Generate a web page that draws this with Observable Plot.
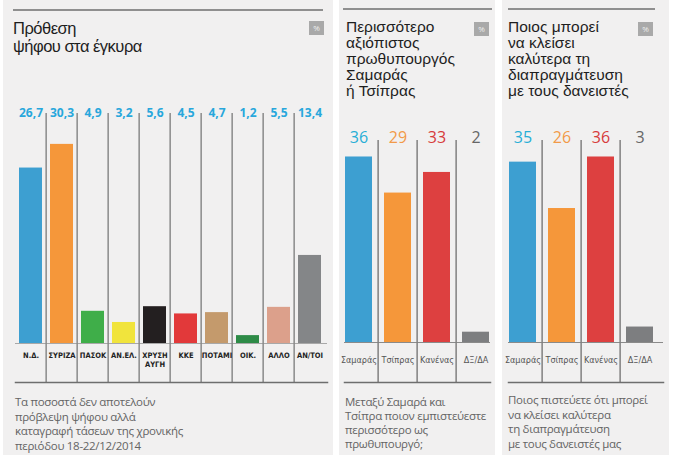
<!DOCTYPE html>
<html>
<head>
<meta charset="utf-8">
<script src="https://cdn.jsdelivr.net/npm/d3@7"></script>
<script src="https://cdn.jsdelivr.net/npm/@observablehq/plot@0.6"></script>
<style>
  body { margin: 0; background: #ffffff; }
  #root { position: relative; width: 675px; height: 463px; overflow: hidden; background: #ffffff; font-family: "Open Sans", "Noto Sans", sans-serif; }
  .panel { position: absolute; top: 0; height: 455px; background: #f1f0f0; }
  .rule { position: absolute; height: 2px; background: #8f8f8f; }
  .title { position: absolute; color: #1e1e1e; white-space: nowrap; font-family: "Liberation Sans", Arial, sans-serif; }
  .pct { position: absolute; width: 15px; height: 14px; background: #a9a9a9; color: #eeeeee; font-size: 8px; line-height: 14px; text-align: center; }
  .note { position: absolute; color: #646464; font-size: 11.5px; letter-spacing: -0.3px; white-space: nowrap; }
  .plot { position: absolute; left: 0; top: 0; }
</style>
</head>
<body>
<div id="root">
  <div class="panel" id="p1" style="left:3px;width:330px;">
    <div class="rule" style="left:10px;top:9px;width:310px;"></div>
    <div class="title" style="left:10px;top:19px;font-size:16.5px;line-height:18px;letter-spacing:-0.5px;">Πρόθεση<br>ψήφου στα έγκυρα</div>
    <div class="pct" style="left:306px;top:21px;">%</div>
    <div class="plot" id="plot1"></div>
    <div class="note" style="left:12px;top:395px;line-height:14.5px;">Τα ποσοστά δεν αποτελούν<br>πρόβλεψη ψήφου αλλά<br>καταγραφή τάσεων της χρονικής<br>περιόδου 18-22/12/2014</div>
  </div>
  <div class="panel" id="p2" style="left:339px;width:156px;">
    <div class="rule" style="left:4px;top:8px;width:149px;"></div>
    <div class="title" style="left:7px;top:19px;font-size:15.5px;line-height:16px;letter-spacing:0px;">Περισσότερο<br>αξιόπιστος<br>πρωθυπουργός<br>Σαμαράς<br>ή Τσίπρας</div>
    <div class="pct" style="left:135px;top:22px;">%</div>
    <div class="plot" id="plot2"></div>
    <div class="note" style="left:6px;top:395px;line-height:14px;">Μεταξύ Σαμαρά και<br>Τσίπρα ποιον εμπιστεύεστε<br>περισσότερο ως<br>πρωθυπουργό;</div>
  </div>
  <div class="panel" id="p3" style="left:502px;width:167px;">
    <div class="rule" style="left:6px;top:8px;width:147px;"></div>
    <div class="title" style="left:6px;top:19px;font-size:15.5px;line-height:16px;letter-spacing:0px;">Ποιος μπορεί<br>να κλείσει<br>καλύτερα τη<br>διαπραγμάτευση<br>με τους δανειστές</div>
    <div class="pct" style="left:136px;top:22px;">%</div>
    <div class="plot" id="plot3"></div>
    <div class="note" style="left:6px;top:393px;line-height:14.5px;">Ποιος πιστεύετε ότι μπορεί<br>να κλείσει καλύτερα<br>τη διαπραγμάτευση<br>με τους δανειστές μας</div>
  </div>
</div>
<script>
// ---- Data ----
const parties = ["Ν.Δ.", "ΣΥΡΙΖΑ", "ΠΑΣΟΚ", "ΑΝ.ΕΛ.", "ΧΡΥΣΗ\nΑΥΓΗ", "ΚΚΕ", "ΠΟΤΑΜΙ", "ΟΙΚ.", "ΑΛΛΟ", "ΑΝ/ΤΟΙ"];
const partyValues = [26.7, 30.3, 4.9, 3.2, 5.6, 4.5, 4.7, 1.2, 5.5, 13.4];
const partyColors = ["#3d9fd1", "#f5973a", "#3fae49", "#f1e43c", "#231f20", "#e2393a", "#c49a6c", "#2e8b47", "#dca08b", "#848688"];

const leaders = ["Σαμαράς", "Τσίπρας", "Κανένας", "ΔΞ/ΔΑ"];
const pmValues = [36, 29, 33, 2];
const negotiationValues = [35, 26, 36, 3];
const leaderColors = ["#3d9fd1", "#f5973a", "#dd4040", "#7d7e80"];
const leaderLabelColors = ["#27aed6", "#f29a48", "#d73b3b", "#666666"];

const fmt = v => String(v).replace(".", ",");
const narrow = "'Liberation Sans Narrow', 'DejaVu Sans Condensed', 'Roboto', sans-serif";

// ---- Panel 1: vote intention ----
const partyData = parties.map((p, i) => ({party: p, value: partyValues[i], color: partyColors[i]}));
const range1 = [9, 326];
const step1 = (range1[1] - range1[0]) / parties.length;

const plot1 = Plot.plot({
  width: 330, height: 455,
  marginTop: 113, marginBottom: 73, marginLeft: 12, marginRight: 6,
  style: {background: "none", overflow: "visible", fontFamily: "'Open Sans', sans-serif"},
  x: {type: "band", domain: parties, range: range1, paddingInner: 0.25, paddingOuter: 0.125, axis: null},
  y: {domain: [0, 35], range: [343, 113], axis: null},
  marks: [
    Plot.ruleY([0], {stroke: "#a8a8a8", strokeWidth: 1}),
    Plot.ruleX(parties.slice(1), {x: d => d, dx: -step1 / 2, stroke: "#8a8a8a", strokeWidth: 1.5}),
    Plot.barY(partyData, {x: "party", y: "value", fill: "color"}),
    Plot.frame({anchor: "bottom", stroke: "#6e6e6e", strokeWidth: 1.5}),
    Plot.text(partyData, {x: "party", text: d => fmt(d.value), frameAnchor: "top", dy: -5.5, fill: "#28a7dc", fontSize: 12, fontWeight: 700, letterSpacing: -0.3}),
    Plot.text(partyData, {x: "party", text: "party", frameAnchor: "bottom", dy: -30, lineAnchor: "top", lineHeight: 1.1, fill: "#222222", fontSize: 7.5, fontWeight: 700, fontFamily: narrow})
  ]
});
document.getElementById("plot1").appendChild(plot1);

// ---- Panels 2 & 3 ----
function leaderPlot(values, range) {
  const data = leaders.map((l, i) => ({leader: l, value: values[i], color: leaderColors[i], labelColor: leaderLabelColors[i]}));
  const step = (range[1] - range[0]) / leaders.length;
  return Plot.plot({
    width: range[2], height: 455,
    marginTop: 140, marginBottom: 73, marginLeft: range[3], marginRight: range[4],
    style: {background: "none", overflow: "visible", fontFamily: "'Open Sans', sans-serif"},
    x: {type: "band", domain: leaders, range: [range[0], range[1]], paddingInner: 0.32, paddingOuter: 0.16, axis: null},
    y: {domain: [0, 39.2], range: [342, 140], axis: null},
    marks: [
      Plot.ruleY([0], {stroke: "#8a8a8a", strokeWidth: 1.2}),
      Plot.ruleX(leaders.slice(1), {x: d => d, dx: -step / 2, stroke: "#808080", strokeWidth: 1.5}),
      Plot.barY(data, {x: "leader", y: "value", fill: "color"}),
      Plot.frame({anchor: "bottom", stroke: "#6e6e6e", strokeWidth: 1.5}),
      Plot.text(data, {x: "leader", text: d => String(d.value), frameAnchor: "top", dy: -9, fill: "labelColor", fontSize: 16, fontWeight: 500}),
      Plot.text(data, {x: "leader", text: "leader", frameAnchor: "bottom", dy: -20, fill: "#555555", fontSize: 9, fontFamily: narrow})
    ]
  });
}
// range: [x0, x1, svgWidth, marginLeft, marginRight] in panel-local pixels
document.getElementById("plot2").appendChild(leaderPlot(pmValues, [-2, 157, 156, 5, 5]));
document.getElementById("plot3").appendChild(leaderPlot(negotiationValues, [-1, 158, 167, 6, 6]));
</script>
</body>
</html>
